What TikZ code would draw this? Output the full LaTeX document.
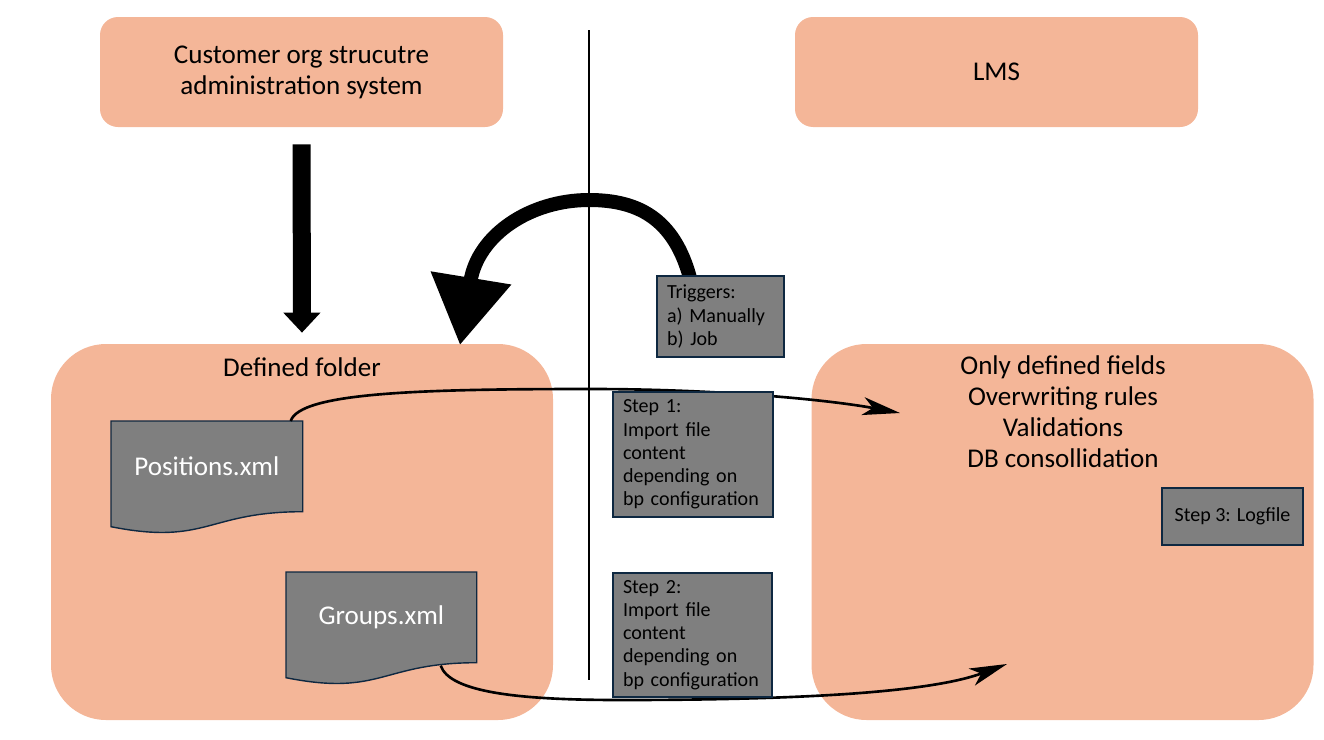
\documentclass[tikz,border=0pt]{standalone}
\usepackage{fontspec}
\setmainfont{Carlito}
\usetikzlibrary{arrows.meta, calc, positioning}
\definecolor{mSalmon}{HTML}{F4B698}
\definecolor{mGrey}{HTML}{7F7F7F}
\definecolor{mNavy}{HTML}{0E2841}
\newcommand{\lblfont}{\fontsize{15.4}{17.6}\selectfont}
\newcommand{\stepfont}{\fontsize{11.4}{13.2}\selectfont}

\begin{document}
\begin{tikzpicture}[
  sysbox/.style={fill=mSalmon, rounded corners=0.36cm, minimum width=8.06cm, minimum height=2.2cm,
                 align=center, font=\lblfont},
  bigbox/.style={fill=mSalmon, rounded corners=1.1cm, minimum width=10.04cm, minimum height=7.52cm},
  docnode/.style={anchor=north west, inner sep=0pt, minimum height=1.8cm},
  docfill/.style={fill=mGrey, draw=mNavy, line width=0.8pt},
  stepbox/.style={fill=mGrey, draw=mNavy, line width=0.9pt, align=left, font=\stepfont,
                  inner xsep=0.2cm, inner ysep=0pt},
  flow/.style={line width=1.5pt, -{Stealth[length=0.75cm, width=0.36cm, inset=0.2cm]}}]
  \useasboundingbox (0,0) rectangle (26.48,-14.78);

  % systems
  \node[sysbox] (cust) at (6.03,-1.44) {Customer org strucutre\\administration system};
  \node[sysbox] (lms) at (19.93,-1.44) {LMS};
  \node[bigbox] (folder) at (6.04,-10.64) {};
  \node[bigbox] (lmsbig) at (21.25,-10.64) {};
  \node[font=\lblfont] (foldtitle) at (6.04,-7.34) {Defined folder};
  \node[font=\lblfont, align=center] (rules) at (21.26,-8.24)
    {Only defined fields\\Overwriting rules\\Validations\\DB consollidation};

  \draw[line width=0.8pt] (11.78,-0.6) -- (11.78,-13.6);

  % export into folder
  \draw[line width=0.36cm, -{Triangle[width=0.72cm, length=0.4cm]}, shorten <=0.34cm, shorten >=0.22cm]
    (cust.south) -- (folder.north);

  % xml files
  \node[docnode, minimum width=3.82cm] (pos) at (2.22,-8.42) {};
  \node[docnode, minimum width=3.8cm] (grp) at (5.72,-11.44) {};
  \foreach \d in {pos, grp} {
    \filldraw[docfill] (\d.north west) -- (\d.north east) -- (\d.south east)
      .. controls (\d.south) and ($(\d.south)+(0,-0.68)$) .. ($(\d.south west)+(0,-0.3)$) -- cycle;
  }
  \node[text=white, font=\lblfont] (posl) at (pos) {Positions.xml};
  \node[text=white, font=\lblfont] (grpl) at (grp) {Groups.xml};

  % trigger arrow, foot hidden under the box
  \coordinate (trigfoot) at (13.84,-5.72);
  \coordinate (foldtip) at (9.20,-6.90);
  \draw[line width=0.28cm, -{Triangle[width=1.56cm, length=1.36cm]}]
    (trigfoot) .. controls (13.54,-4.40) and (12.80,-4.00) .. (11.78,-4.00)
    .. controls (10.60,-4.00) and (9.56,-4.70) .. (foldtip);

  \node[stepbox, minimum width=2.54cm, minimum height=1.62cm, text width=2.14cm] (trig) at (14.41,-6.33)
    {Triggers:\\a) Manually\\b) Job};

  % imports
  \coordinate (in1) at (18.0,-8.26);
  \coordinate (in2) at (20.14,-13.28);
  \draw[flow] ($(pos.north east)+(-0.24,0)$) .. controls (6.0,-7.85) and (8.4,-7.78) .. (11.8,-7.78)
    .. controls (14.4,-7.78) and (16.6,-8.0) .. (in1);
  \draw[flow] ($(grp.south east)+(-0.72,-0.06)$) .. controls (9.0,-13.85) and (10.4,-14.0) .. (12.4,-14.0)
    .. controls (16.0,-14.0) and (18.6,-13.85) .. (in2);

  \node[stepbox, minimum width=3.2cm, minimum height=2.5cm, text width=2.8cm] (step1) at (13.86,-9.09)
    {Step 1:\\Import file\\content\\depending on\\bp configuration};
  \node[stepbox, minimum width=3.18cm, minimum height=2.48cm, text width=2.78cm] (step2) at (13.85,-12.70)
    {Step 2:\\Import file\\content\\depending on\\bp configuration};
  \node[stepbox, minimum width=2.82cm, minimum height=1.14cm, align=center] (step3) at (24.65,-10.33)
    {Step 3: Logfile};
\end{tikzpicture}
\end{document}
